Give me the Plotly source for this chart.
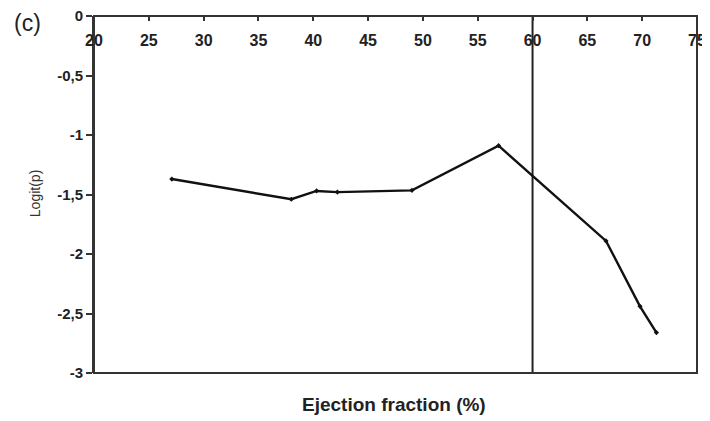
import plotly.graph_objects as go

ejection_fraction = [27.1, 38.0, 40.3, 42.2, 49.0, 56.9, 66.7, 69.8, 71.3]
logit_p = [-1.37, -1.54, -1.47, -1.48, -1.465, -1.09, -1.89, -2.44, -2.66]
cutoff_x = 60
x_ticks = [20, 25, 30, 35, 40, 45, 50, 55, 60, 65, 70, 75]
y_ticks = [0, -0.5, -1, -1.5, -2, -2.5, -3]
y_tick_labels = ["0", "-0,5", "-1", "-1,5", "-2", "-2,5", "-3"]

fig = go.Figure()
fig.add_trace(go.Scatter(
    x=[cutoff_x, cutoff_x], y=[min(y_ticks), max(y_ticks)], mode="lines",
    line=dict(color="#222222", width=2), hoverinfo="skip", showlegend=False))
fig.add_trace(go.Scatter(
    x=ejection_fraction, y=logit_p, mode="lines+markers",
    line=dict(color="#111111", width=2.4),
    marker=dict(symbol="diamond", size=4, color="#111111"),
    showlegend=False))

font = "Liberation Sans, Arial, sans-serif"
fig.update_layout(
    width=702, height=413,
    margin=dict(l=86, r=13, t=8, b=48, autoexpand=False),
    paper_bgcolor="white", plot_bgcolor="white",
    font=dict(family=font, color="#222222"),
    xaxis=dict(
        range=[20, 75], side="bottom", anchor="free", position=1.0,
        automargin=False,
        tickvals=x_ticks, ticklabeloverflow="allow", ticklabelstandoff=6,
        ticks="outside", ticklen=4, tickwidth=2, tickcolor="#333333",
        tickfont=dict(family=font, size=16, weight="bold", color="#222222"),
        showline=True, linecolor="#333333", linewidth=2,
        showgrid=False, zeroline=False),
    yaxis=dict(
        range=[-3, 0], tickvals=y_ticks, ticktext=y_tick_labels,
        automargin=False, ticklabeloverflow="allow",
        ticks="outside", ticklen=6, tickwidth=2, tickcolor="#333333",
        tickfont=dict(family=font, size=15, weight="bold", color="#222222"),
        showline=True, linecolor="#333333", linewidth=2,
        showgrid=False, zeroline=False),
    shapes=[dict(type="rect", xref="paper", yref="paper", x0=0, x1=1, y0=0, y1=1,
                 line=dict(color="#333333", width=2), layer="above")],
    annotations=[
        dict(text="Logit(p)", xref="paper", yref="paper", x=-0.0978, y=0.501,
             textangle=-90, showarrow=False, xanchor="center", yanchor="middle",
             font=dict(family=font, size=14, color="#333333")),
        dict(text="Ejection fraction (%)", xref="paper", yref="paper",
             x=0.4975, y=-0.087, showarrow=False, xanchor="center", yanchor="middle",
             font=dict(family=font, size=19, weight="bold", color="#222222")),
        dict(text="(c)", xref="paper", yref="paper", x=-0.1095, y=0.98,
             showarrow=False, xanchor="center", yanchor="middle",
             font=dict(family=font, size=23, color="#222222")),
    ],
)
fig.write_html("out.html")
